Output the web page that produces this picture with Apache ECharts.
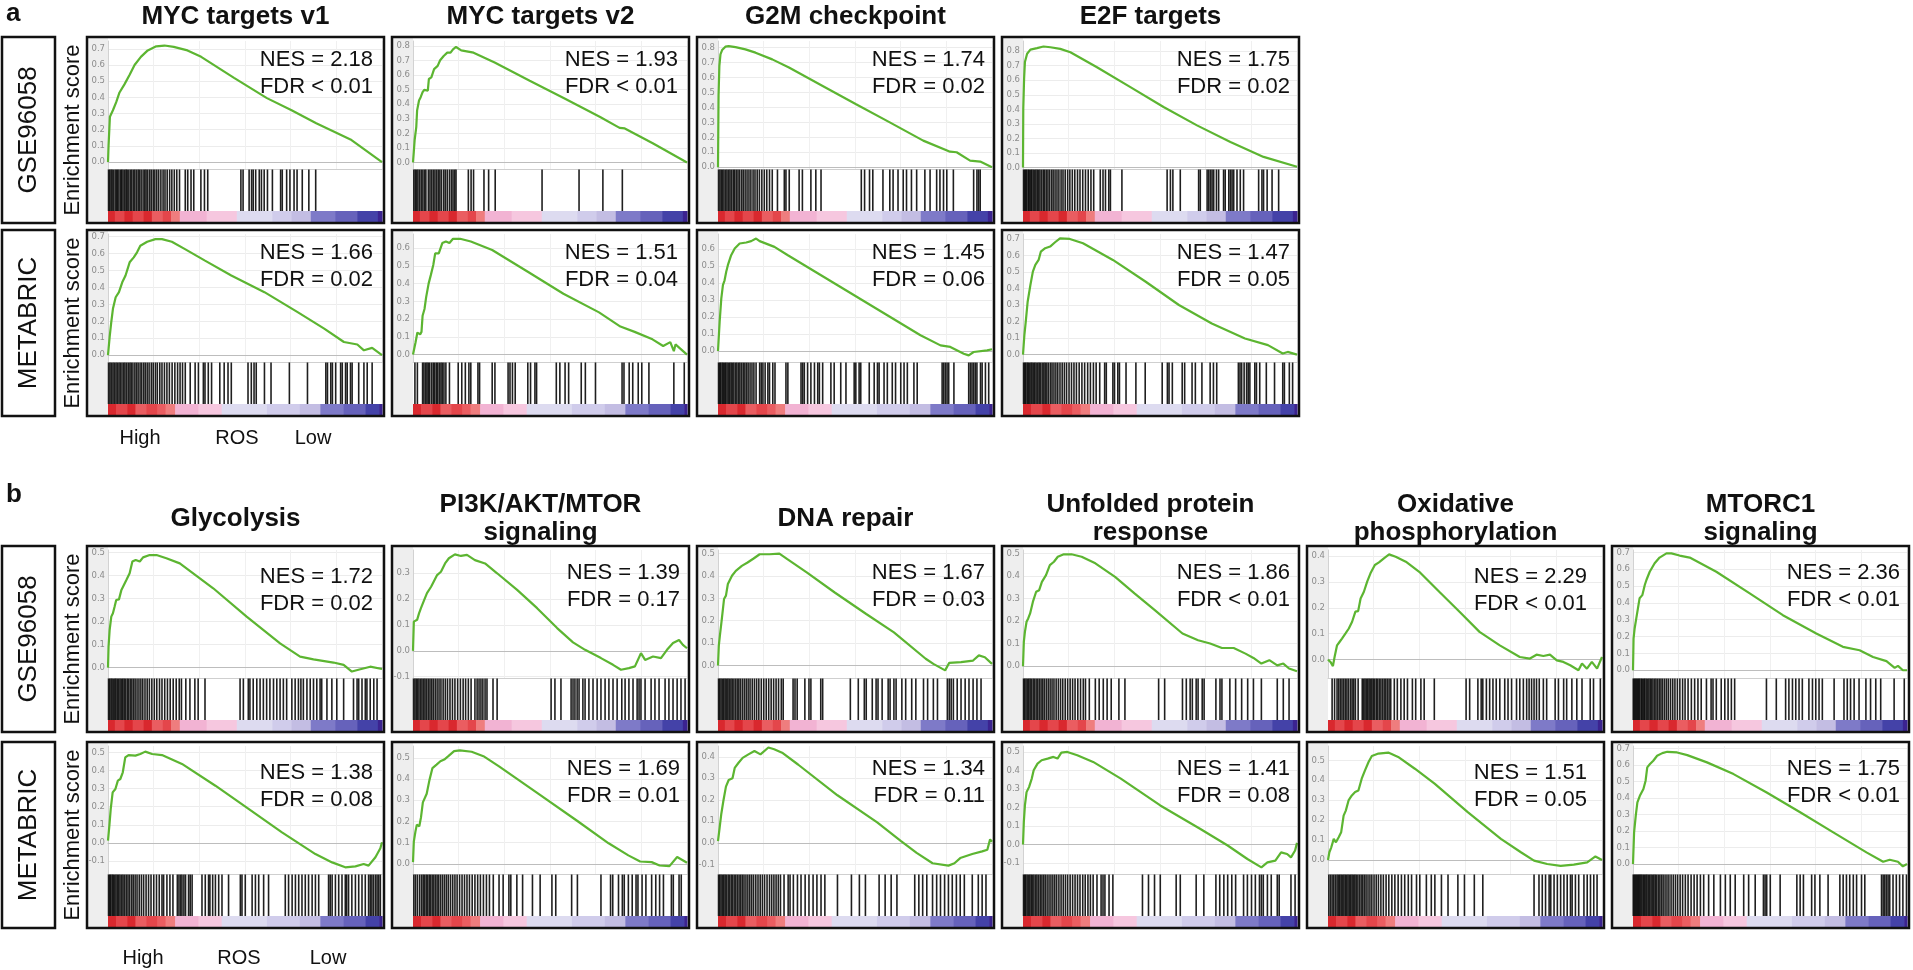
<!DOCTYPE html>
<html><head><meta charset="utf-8">
<script src="https://cdn.jsdelivr.net/npm/echarts@6/dist/echarts.min.js"></script>
<style>html,body{margin:0;padding:0;background:#fff;}#c{width:1913px;height:970px;}</style>
</head><body><div id="c"></div>
<script>
// ---------------- DATA ----------------
const setsA = ['MYC targets v1','MYC targets v2','G2M checkpoint','E2F targets'];
const setsB = ['Glycolysis','PI3K/AKT/MTOR\nsignaling','DNA repair','Unfolded protein\nresponse','Oxidative\nphosphorylation','MTORC1\nsignaling'];
const datasets = ['GSE96058','METABRIC'];
const yAxisName = 'Enrichment score';
const rankLabels = ['High','ROS','Low'];

const nesAGse = ['2.18','1.93','1.74','1.75'];
const fdrAGse = ['< 0.01','< 0.01','= 0.02','= 0.02'];
const nesAMet = ['1.66','1.51','1.45','1.47'];
const fdrAMet = ['= 0.02','= 0.04','= 0.06','= 0.05'];
const nesBGse = ['1.72','1.39','1.67','1.86','2.29','2.36'];
const fdrBGse = ['= 0.02','= 0.17','= 0.03','< 0.01','< 0.01','< 0.01'];
const nesBMet = ['1.38','1.69','1.34','1.41','1.51','1.75'];
const fdrBMet = ['= 0.08','= 0.01','= 0.11','= 0.08','= 0.05','< 0.01'];

const ticks00to05 = [0,0.1,0.2,0.3,0.4,0.5];
const ticks00to06 = [0,0.1,0.2,0.3,0.4,0.5,0.6];
const ticks00to07 = [0,0.1,0.2,0.3,0.4,0.5,0.6,0.7];
const ticks00to08 = [0,0.1,0.2,0.3,0.4,0.5,0.6,0.7,0.8];
const ticks00to04 = [0,0.1,0.2,0.3,0.4];
const ticksM1to05 = [-0.1,0,0.1,0.2,0.3,0.4,0.5];
const ticksM1to03 = [-0.1,0,0.1,0.2,0.3];
const ticksM1to04 = [-0.1,0,0.1,0.2,0.3,0.4];

const yRangeAGse = [[-0.043,0.748],[-0.045,0.835],[-0.012,0.845],[-0.01,0.87]];
const yRangeAMet = [[-0.04,0.715],[-0.042,0.68],[-0.065,0.69],[-0.045,0.73]];
const yRangeBGse = [[-0.045,0.51],[-0.105,0.39],[-0.056,0.516],[-0.052,0.515],[-0.071,0.423],[-0.046,0.714]];
const yRangeBMet = [[-0.171,0.535],[-0.048,0.556],[-0.145,0.45],[-0.159,0.532],[-0.07,0.572],[-0.06,0.714]];
const ticksAGse = [ticks00to07,ticks00to08,ticks00to08,ticks00to08];
const ticksAMet = [ticks00to07,ticks00to06,ticks00to06,ticks00to07];
const ticksBGse = [ticks00to05,ticksM1to03,ticks00to05,ticks00to05,ticks00to04,ticks00to07];
const ticksBMet = [ticksM1to05,ticks00to05,ticksM1to04,ticksM1to05,ticks00to05,ticks00to07];

// running enrichment score: [rank %, ES]
const esMyc1Gse = [[0,0],[0.2,0.1],[0.7,0.28],[1.8,0.32],[3,0.37],[4.2,0.43],[6,0.48],[7.9,0.54],[9.7,0.6],[12,0.65],[14.5,0.69],[17.6,0.715],[20.6,0.72],[24,0.712],[29,0.69],[34,0.65],[46,0.52],[58,0.395],[67,0.32],[76,0.24],[88.5,0.14],[100,0]];
const esMyc1Met = [[0,0],[0.6,0.107],[1.2,0.196],[1.8,0.274],[2.8,0.342],[4,0.372],[5.2,0.43],[6.4,0.47],[7.9,0.548],[9.4,0.577],[10.6,0.607],[11.8,0.646],[14.3,0.669],[17.3,0.685],[19.7,0.685],[23.3,0.669],[28.1,0.626],[35.4,0.558],[45,0.47],[57.1,0.372],[69.2,0.254],[78.9,0.157],[86.1,0.078],[91,0.063],[93.4,0.029],[96.4,0.043],[100,0]];
const esMyc2Gse = [[0,0],[0.3,0.075],[0.6,0.154],[1.2,0.245],[1.5,0.358],[2.2,0.426],[2.8,0.449],[3.5,0.483],[4.1,0.499],[5.4,0.494],[5.8,0.574],[6.7,0.585],[7.7,0.642],[9,0.664],[9.9,0.703],[11.2,0.732],[12.5,0.755],[13.7,0.755],[14.6,0.778],[15.7,0.794],[17.6,0.771],[22.1,0.755],[29.8,0.687],[42.6,0.562],[55.5,0.438],[68.3,0.313],[75.4,0.238],[77.3,0.234],[87.5,0.132],[100,0]];
const esMyc2Met = [[0,0],[0.65,-0.006],[0.9,0.067],[1.6,0.124],[2.6,0.114],[3.1,0.128],[3.5,0.219],[4.2,0.257],[4.8,0.324],[5.7,0.4],[6.5,0.448],[7.4,0.505],[8.1,0.571],[9.4,0.571],[10.7,0.629],[12,0.638],[13.3,0.629],[14.6,0.653],[17.2,0.653],[21.1,0.638],[28.9,0.59],[41.9,0.467],[54.9,0.343],[67.9,0.238],[75.7,0.158],[80.9,0.128],[87.4,0.086],[91.3,0.048],[93.9,0.07],[95.2,0.019],[95.8,0.057],[100,0]];
const esG2mGse = [[0,0],[0.2,0.478],[0.5,0.678],[0.9,0.756],[1.5,0.784],[2.7,0.807],[3.9,0.811],[6.4,0.804],[10,0.789],[13.7,0.767],[19.8,0.722],[25.9,0.667],[38.2,0.544],[50.4,0.422],[62.7,0.3],[74.9,0.178],[84.7,0.104],[87.1,0.1],[92,0.044],[95.7,0.038],[100,0]];
const esG2mMet = [[0,0],[0.6,0.171],[1.2,0.309],[1.8,0.388],[2.4,0.417],[3,0.467],[3.6,0.506],[4.8,0.565],[6.1,0.604],[7.9,0.634],[10.3,0.64],[12.1,0.648],[13.9,0.663],[15.2,0.648],[20.6,0.614],[25.5,0.565],[37.6,0.447],[49.7,0.329],[61.8,0.211],[73.9,0.093],[81.2,0.033],[84.8,0.024],[89.7,-0.016],[91.5,-0.026],[93.3,-0.006],[98.2,0.004],[100,0.01]];
const esE2fGse = [[0,0],[0.1,0.405],[0.4,0.61],[0.7,0.725],[1.5,0.782],[2.7,0.811],[5.1,0.821],[7.5,0.832],[10,0.827],[13.6,0.816],[17.3,0.793],[27,0.69],[39.2,0.553],[51.3,0.416],[63.5,0.29],[75.7,0.176],[87.8,0.073],[100,0.005]];
const esE2fMet = [[0,0],[0.5,0.117],[1,0.198],[1.7,0.32],[2.7,0.421],[3.6,0.502],[4.5,0.543],[5.7,0.573],[6.5,0.623],[8.1,0.644],[9.9,0.654],[11.7,0.68],[13.5,0.704],[17.1,0.7],[21.9,0.674],[32.8,0.573],[44.8,0.441],[56.9,0.3],[68.9,0.188],[81,0.097],[89.4,0.057],[94.8,0.006],[96.6,0.016],[100,0]];
const esGlyGse = [[0,0],[0.2,0.091],[0.6,0.163],[1.2,0.221],[1.8,0.236],[2.4,0.264],[3,0.293],[4,0.296],[4.9,0.337],[6.7,0.38],[7.9,0.409],[8.9,0.46],[10.1,0.467],[11.6,0.46],[12.8,0.478],[15.2,0.488],[17.7,0.488],[21.3,0.474],[26.2,0.452],[38.4,0.344],[50.6,0.221],[62.8,0.105],[70.1,0.048],[75,0.036],[82.3,0.022],[86,0.012],[89,-0.017],[92.1,-0.007],[95.7,0.004],[100,-0.006]];
const esGlyMet = [[0,0.013],[0.5,0.096],[1,0.188],[1.7,0.279],[2.7,0.298],[3.6,0.344],[4.5,0.353],[5.4,0.39],[6.3,0.472],[7.5,0.485],[10,0.482],[11.8,0.491],[13.6,0.504],[16.1,0.491],[19.7,0.485],[27,0.436],[39.2,0.316],[51.3,0.188],[63.5,0.059],[75.7,-0.061],[81.8,-0.107],[86.6,-0.134],[90.3,-0.129],[93.3,-0.116],[95.1,-0.125],[97.6,-0.079],[99.4,-0.029],[100,0.004]];
const esPi3kGse = [[0,0],[0.3,0.113],[0.9,0.107],[1.5,0.12],[2.2,0.145],[2.9,0.165],[4.1,0.197],[5.1,0.223],[6.6,0.248],[8.8,0.293],[10.2,0.306],[11.7,0.338],[13.1,0.358],[15.3,0.373],[17.5,0.367],[19.7,0.371],[22.6,0.351],[26.3,0.338],[30.7,0.3],[38,0.236],[45.3,0.165],[52.6,0.088],[58.4,0.033],[62.8,0.004],[68.6,-0.028],[73,-0.054],[75.9,-0.073],[78.8,-0.067],[81,-0.06],[83.2,-0.009],[84.7,-0.035],[87.6,-0.022],[90.5,-0.028],[92.7,0.004],[94.9,0.03],[97.1,0.042],[98.5,0.023],[100,0.01]];
const esPi3kMet = [[0,0.008],[0.3,0.105],[0.9,0.153],[1.4,0.185],[2.3,0.177],[2.9,0.218],[3.6,0.29],[4.3,0.282],[5,0.331],[6,0.395],[7.1,0.452],[8.6,0.468],[10,0.484],[11.4,0.492],[12.9,0.508],[15,0.532],[17.1,0.535],[21.4,0.529],[25.7,0.508],[31.4,0.46],[45.7,0.331],[60,0.202],[71.4,0.097],[78.6,0.04],[82.9,0.011],[87.1,0.008],[90,-0.008],[93.6,-0.011],[96.4,0.032],[98.6,0.016],[100,0.005]];
const esDnaGse = [[0,0],[0.3,0.089],[0.7,0.134],[1.4,0.208],[2.2,0.297],[2.9,0.312],[3.6,0.364],[5.1,0.401],[6.5,0.423],[8.7,0.445],[10.8,0.46],[13,0.478],[15.2,0.497],[18.8,0.497],[22.4,0.5],[25.3,0.475],[32.5,0.415],[42.6,0.326],[54.1,0.23],[64.2,0.148],[75.8,0.03],[78.6,0.007],[82.9,-0.022],[84.4,0.012],[88.7,0.015],[93.1,0.022],[95.2,0.045],[97.4,0.037],[100,0.007]];
const esDnaMet = [[0,0.008],[0.6,0.071],[1.2,0.134],[2,0.198],[2.9,0.261],[3.9,0.292],[5.3,0.3],[6.1,0.348],[7.5,0.372],[9,0.395],[11.1,0.411],[13.3,0.427],[15.5,0.411],[18.4,0.443],[20.5,0.435],[23.4,0.419],[29.2,0.364],[43.6,0.221],[58.1,0.095],[66.8,0.008],[72.5,-0.047],[78.3,-0.095],[84.1,-0.106],[86.3,-0.095],[88.4,-0.071],[92.8,-0.052],[96.4,-0.04],[98.3,-0.032],[99.3,0.016],[100,0.005]];
const esUprGse = [[0,0],[0.3,0.108],[0.7,0.152],[1.3,0.197],[1.9,0.212],[2.6,0.234],[3.6,0.285],[4.8,0.33],[5.9,0.337],[6.9,0.374],[8.4,0.404],[9.8,0.448],[11.3,0.463],[12.7,0.485],[14.9,0.496],[17.7,0.496],[21.4,0.485],[26.4,0.456],[33.6,0.396],[40.8,0.322],[48.1,0.249],[58.2,0.145],[63.9,0.115],[68.3,0.101],[72.6,0.081],[76.9,0.081],[81.2,0.056],[84.1,0.037],[87,0.012],[89.9,0.027],[92.8,0.004],[95,0.012],[97.1,-0.01],[100,-0.022]];
const esUprMet = [[0,0],[0.3,0.121],[0.7,0.211],[1.3,0.283],[2.2,0.31],[3.2,0.356],[3.9,0.401],[5.3,0.437],[6.8,0.455],[9,0.464],[11.1,0.473],[12.6,0.464],[14,0.496],[16.2,0.5],[19.8,0.482],[25.6,0.446],[35.7,0.356],[50.1,0.211],[64.6,0.085],[74.7,-0.005],[81.9,-0.078],[87,-0.123],[89.2,-0.096],[92.1,-0.087],[94.2,-0.042],[96.4,-0.051],[97.8,-0.069],[99.3,-0.032],[100,0.009]];
const esOxGse = [[0,0],[0.9,-0.009],[1.8,-0.025],[2.4,0.01],[3.3,0.055],[4.2,0.068],[5.1,0.081],[6.4,0.101],[7.6,0.12],[8.8,0.146],[10,0.185],[11,0.187],[11.9,0.236],[13.1,0.262],[14.3,0.301],[15.5,0.333],[17.1,0.365],[18.6,0.375],[20.4,0.391],[22.3,0.406],[24.7,0.397],[28.4,0.378],[33.3,0.339],[40.6,0.262],[48,0.185],[55.3,0.107],[62.7,0.055],[70,0.01],[73.7,0.004],[76.1,0.019],[78.6,0.014],[81,0.019],[83.5,-0.003],[85.9,-0.009],[88.4,-0.022],[91.4,-0.041],[92.7,-0.015],[94.5,-0.035],[96.3,-0.009],[98.2,-0.035],[100,0.01]];
const esOxMet = [[0,0],[0.5,0.039],[1.2,0.064],[2.1,0.106],[2.9,0.089],[3.9,0.114],[4.8,0.139],[5.7,0.223],[6.5,0.248],[7.5,0.299],[8.7,0.324],[9.9,0.341],[11.1,0.349],[12.3,0.408],[13.5,0.45],[14.8,0.492],[16,0.522],[18.4,0.534],[22,0.539],[25.6,0.517],[31.7,0.458],[38.9,0.383],[51,0.24],[63.1,0.106],[70.4,0.039],[75.2,-0.003],[80,-0.02],[84.9,-0.029],[89.7,-0.023],[94.6,-0.012],[97.6,0.018],[100,0]];
const esMtorGse = [[0,0],[0.1,0.089],[0.2,0.188],[0.6,0.248],[1.2,0.308],[1.8,0.367],[2.4,0.427],[3.4,0.446],[4.3,0.506],[4.9,0.536],[6.1,0.585],[7.9,0.635],[9.7,0.669],[12.2,0.694],[14,0.694],[17,0.681],[20.7,0.669],[30.4,0.585],[42.6,0.456],[54.7,0.327],[66.9,0.218],[76.6,0.139],[82.7,0.119],[87.6,0.079],[92.5,0.054],[95.5,0.014],[96.7,0.026],[98.5,0],[100,0]];
const esMtorMet = [[0,0],[0.1,0.05],[0.4,0.192],[1,0.292],[1.6,0.373],[2.5,0.413],[3.8,0.454],[4.6,0.504],[5.2,0.585],[6.2,0.605],[7.4,0.625],[8.8,0.655],[10.7,0.671],[12.5,0.679],[16.1,0.675],[19.8,0.659],[27,0.615],[36.7,0.544],[48.8,0.433],[61,0.313],[73.1,0.192],[85.2,0.071],[91.3,0.014],[93.7,0.026],[96.7,0.014],[98.5,-0.014],[100,0]];

// gene-set hit positions (rank %)
const hitsMyc1Gse = [0.2,0.6,1.1,1.5,2.0,2.6,3.1,3.5,4.0,4.6,5.0,5.5,6.1,6.6,7.0,7.6,8.2,8.7,9.3,9.8,10.4,11.0,11.5,12.1,12.8,13.4,13.9,14.5,15.2,15.8,16.5,17.1,17.8,18.5,19.3,20.1,20.8,21.6,22.5,23.3,24.2,25.1,26.1,28.2,29.1,30.3,31.3,33.9,35.2,36.4,48.5,49.3,51.5,52.4,53.0,53.9,55.2,56.0,57.0,58.2,60.0,63.0,63.6,65.2,66.4,67.9,69.0,70.9,73.3,75.8];
const hitsMyc1Met = [0.2,0.7,1.2,1.8,2.3,2.9,3.4,4.0,4.5,5.1,5.7,6.2,6.8,7.4,8.0,8.5,9.1,9.8,10.4,11.0,11.7,12.3,13.0,13.6,14.3,15.0,15.8,16.5,17.3,18.0,18.9,19.7,20.6,21.5,22.4,23.4,24.4,25.4,26.3,27.2,28.2,30.0,31.8,33.0,34.8,35.4,36.6,37.8,40.8,42.4,43.8,45.0,51.1,52.3,53.3,54.1,57.1,59.5,66.2,72.8,79.5,80.1,81.3,81.9,83.1,84.9,85.5,86.7,87.3,88.5,89.1,91.5,93.4,94.6,96.4];
const hitsMyc2Gse = [0.3,0.8,1.3,1.8,2.4,3.0,3.6,4.2,4.7,5.6,6.2,6.8,7.4,8.0,8.6,9.2,9.8,10.4,11.2,11.8,12.5,13.3,14.0,14.6,15.2,15.7,20.2,21.2,22.1,25.9,27.6,30.0,47.1,60.6,69.3,76.4];
const hitsMyc2Met = [0.7,1.6,3.5,4.0,4.6,5.1,5.6,6.1,6.8,7.4,7.9,8.5,9.0,9.6,10.2,10.7,11.3,12.0,13.3,16.5,17.8,19.1,20.4,21.1,23.7,24.3,28.9,29.9,34.7,35.4,36.3,37.3,41.9,42.9,44.5,45.1,52.3,53.6,55.5,56.8,61.4,62.9,66.6,76.3,77.0,78.9,80.2,82.2,83.5,86.1,95.2,99.0];
const hitsG2mGse = [0.2,0.7,1.2,1.7,2.2,2.8,3.3,3.9,4.4,5.0,5.6,6.1,6.7,7.3,7.9,8.6,9.2,9.9,10.6,11.3,12.0,12.8,13.5,14.3,15.1,16.0,16.9,17.8,18.8,19.8,21.7,24.2,24.8,26.0,29.6,30.8,33.9,35.7,37.6,52.3,53.5,55.3,56.5,60.2,62.7,63.9,65.7,67.6,68.8,70.6,72.5,75.5,77.4,79.8,81.0,82.3,83.5,85.9,93.3,94.5,95.1,95.7];
const hitsG2mMet = [0.2,0.6,1.0,1.5,1.9,2.4,2.8,3.3,3.8,4.3,4.8,5.3,5.8,6.4,6.9,7.5,8.0,8.6,9.2,9.8,10.4,11.0,11.7,12.4,13.1,13.9,15.2,15.8,16.4,17.2,18.2,18.8,20.0,20.8,24.8,25.5,30.3,30.9,31.5,32.7,33.9,35.2,36.4,37.0,38.2,41.2,42.4,44.8,46.7,49.7,50.3,51.5,52.1,55.2,57.0,58.2,58.8,60.6,61.8,63.6,64.8,66.7,67.9,69.1,71.5,72.7,81.8,82.4,83.0,83.6,84.2,86.1,91.5,92.1,92.7,93.3,93.9,94.5,95.8,96.4,97.6,98.8];
const hitsE2fGse = [0.2,0.6,1.0,1.4,1.9,2.3,2.8,3.2,3.7,4.2,4.7,5.2,5.7,6.2,6.8,7.4,7.9,8.5,9.1,9.7,10.4,11.0,11.7,12.4,13.1,13.9,14.6,15.4,16.3,17.1,18.0,18.9,19.9,20.8,21.8,22.8,23.8,24.8,25.8,28.2,29.2,30.1,31.3,31.9,36.1,52.6,53.8,54.7,57.4,64.1,64.7,67.2,67.8,68.4,69.0,69.6,70.6,71.4,73.2,73.8,75.1,75.7,76.3,76.9,78.1,79.3,80.5,86.0,87.2,87.8,89.1,90.9,93.3];
const hitsE2fMet = [0.2,0.6,1.0,1.5,1.9,2.4,2.9,3.3,3.8,4.3,4.8,5.4,5.9,6.4,7.0,7.6,8.1,8.7,9.3,10.0,10.6,11.3,12.0,12.7,13.5,14.3,15.1,15.9,16.8,17.7,18.6,19.5,20.5,21.5,22.5,23.6,24.6,25.7,26.7,28.0,29.8,30.4,32.8,33.4,34.6,35.2,37.6,41.2,44.6,50.8,52.7,53.3,54.5,58.1,59.0,61.7,62.9,65.3,68.3,69.5,70.7,78.6,79.2,79.8,80.7,81.6,82.2,82.8,84.6,85.2,86.4,88.8,91.8,94.8,95.4,97.2,98.4];
const hitsGlyGse = [0.2,0.6,1.1,1.5,2.0,2.5,2.9,3.4,3.9,4.4,4.9,5.4,5.9,6.4,7.0,7.5,8.1,8.7,9.3,9.9,10.6,11.3,12.0,12.7,13.5,14.3,15.1,16.0,16.9,17.8,18.8,19.7,20.7,21.7,22.7,23.8,24.9,26.0,26.8,28.4,29.9,31.7,32.9,35.4,48.2,49.4,51.2,51.8,53.0,54.3,55.5,56.7,57.9,59.1,60.4,61.6,62.8,64.0,65.2,67.1,68.3,69.5,70.4,71.3,72.6,73.8,75.0,76.2,77.4,78.0,79.9,81.7,83.5,86.0,89.6,90.9,91.5,92.7,93.9,94.5,95.7,97.0,98.2];
const hitsGlyMet = [0.2,0.6,1.0,1.5,1.9,2.4,2.9,3.4,3.9,4.4,5.0,5.5,6.1,6.7,7.3,7.9,8.6,9.2,9.9,10.6,11.4,12.2,13.0,13.9,14.8,15.7,16.7,17.7,18.7,19.7,20.3,21.5,22.6,23.7,25.3,25.9,26.5,27.0,27.7,28.3,29.4,30.0,30.7,34.3,35.5,36.7,37.2,38.2,39.2,40.4,41.6,44.0,48.3,48.9,50.1,52.6,53.8,55.0,56.8,58.6,64.7,65.9,67.2,68.4,69.6,70.8,72.0,73.2,74.5,75.7,76.9,80.5,81.1,81.8,83.0,84.2,85.4,86.6,87.1,87.8,89.0,90.3,91.5,92.7,93.9,95.1,95.7,96.3,96.9,97.6,98.2,98.8,99.4];
const hitsPi3kGse = [0.2,0.7,1.2,1.7,2.2,2.8,3.3,3.9,4.4,5.0,5.6,6.2,6.8,7.4,8.1,8.8,9.5,10.2,11.0,11.8,12.6,13.5,14.4,15.3,16.3,17.3,18.3,19.2,20.2,21.2,22.6,23.4,24.1,24.8,25.5,26.3,27.0,29.2,30.7,50.4,51.8,54.0,57.7,58.4,59.1,59.9,60.6,62.0,62.8,64.2,65.7,67.2,68.6,70.1,71.5,73.0,74.5,76.2,77.4,78.8,80.3,81.8,82.5,83.2,84.7,86.9,88.3,89.8,92.0,93.4,94.9,96.4,97.8,99.3];
const hitsPi3kMet = [0.3,0.9,1.6,2.4,3.1,3.7,4.2,4.8,5.3,5.9,6.4,7.0,7.6,8.2,8.8,9.4,10.1,10.8,11.5,12.2,12.9,13.7,14.5,15.3,16.1,17.0,17.9,18.8,19.7,20.6,21.6,22.6,23.6,24.6,25.7,26.8,27.9,29.3,31.4,32.9,35.0,35.7,37.9,40.0,43.6,46.4,50.7,52.1,57.9,60.0,68.6,72.1,72.9,75.0,76.4,77.1,78.6,80.0,81.4,82.1,83.6,85.0,87.1,88.6,90.0,91.4,94.3,95.0,97.1,97.9];
const hitsDnaGse = [0.2,0.6,1.1,1.6,2.1,2.6,3.1,3.6,4.1,4.7,5.2,5.8,6.4,7.0,7.6,8.2,8.9,9.6,10.3,11.0,11.7,12.5,13.3,14.1,14.9,15.8,16.7,17.6,18.5,19.4,20.3,21.2,22.1,23.1,23.8,27.4,28.1,28.9,31.7,33.2,33.9,37.5,38.2,48.3,51.2,53.4,54.1,56.3,57.7,58.4,59.9,62.1,62.8,64.2,65.0,67.1,68.5,70.7,72.2,75.0,76.5,78.6,80.1,83.7,84.4,85.1,85.9,87.3,88.7,90.2,91.6,93.1,94.5,96.0];
const hitsDnaMet = [0.2,0.6,1.1,1.6,2.1,2.6,3.1,3.7,4.2,4.8,5.3,5.9,6.5,7.1,7.7,8.3,8.9,9.5,10.2,10.9,11.6,12.3,13.0,13.8,14.6,15.4,16.2,17.0,17.9,18.8,19.6,20.4,21.2,22.0,22.8,24.1,25.6,26.3,27.5,29.0,30.3,31.8,33.2,34.7,36.1,37.6,39.0,43.6,48.7,51.6,53.8,58.8,61.0,63.2,65.3,71.8,73.3,74.7,76.2,78.3,79.8,81.2,82.7,84.1,85.5,87.0,88.4,89.9,92.8,95.0,96.4,97.8];
const hitsUprGse = [0.2,0.6,1.1,1.6,2.1,2.6,3.1,3.7,4.2,4.8,5.4,6.0,6.6,7.2,7.8,8.5,9.2,9.9,10.6,11.3,12.1,12.9,13.7,14.5,15.4,16.3,17.2,18.1,19.0,20.0,21.0,22.0,22.8,24.2,26.4,27.8,29.3,30.7,32.2,35.0,37.2,49.5,51.7,58.2,59.6,61.0,61.8,63.2,63.9,65.4,66.1,70.4,71.9,72.6,75.5,77.6,79.8,82.0,84.1,87.0,92.8,95.0,97.1];
const hitsUprMet = [0.2,0.6,1.0,1.5,2.0,2.5,3.0,3.5,4.0,4.6,5.1,5.7,6.3,6.9,7.5,8.1,8.8,9.5,10.2,10.9,11.6,12.3,13.1,13.9,14.7,15.5,16.3,17.2,18.1,19.0,19.9,20.8,21.8,22.7,23.7,24.6,25.6,27.0,28.5,29.2,29.9,31.4,32.8,43.6,45.8,48.0,50.1,55.9,57.4,63.2,66.0,70.4,71.8,73.3,74.7,76.2,77.6,80.5,81.9,83.4,84.8,86.3,87.0,87.7,89.2,90.6,92.8,93.5,97.8,99.3];
const hitsOxGse = [1.5,2.4,3.3,3.9,4.5,5.1,5.7,6.3,6.9,7.5,8.2,8.8,9.4,10.0,11.0,12.5,13.0,13.5,14.0,14.5,15.0,15.5,16.0,16.5,17.0,17.6,18.1,18.7,19.3,19.9,20.5,21.1,21.7,22.3,22.9,24.2,25.3,26.6,27.8,29.0,30.8,32.0,33.9,35.1,38.8,50.4,51.7,54.7,55.9,56.5,57.8,59.0,60.2,61.4,62.7,64.5,65.7,67.0,68.8,70.0,71.3,72.5,73.4,74.3,75.2,76.1,77.1,78.6,79.8,82.9,84.1,86.0,87.1,89.0,90.8,92.7,95.7,96.9,99.4];
const hitsOxMet = [0.3,0.9,1.5,2.1,2.7,3.3,3.8,4.3,4.8,5.3,5.8,6.3,6.8,7.3,7.8,8.3,8.8,9.3,9.8,10.3,10.9,11.5,12.1,12.7,13.3,13.9,14.6,15.3,16.0,16.8,17.6,18.4,19.3,20.2,21.2,22.2,23.3,24.4,25.6,26.8,28.0,29.3,30.5,32.3,33.5,35.9,37.7,39.0,41.4,43.8,47.4,49.8,53.4,56.5,75.2,77.0,78.2,79.4,80.7,81.3,82.5,83.7,84.9,86.1,87.3,88.5,89.1,90.3,91.5,93.4,94.6,95.8,97.0,98.2];
const hitsMtorGse = [0.1,0.5,0.9,1.3,1.7,2.1,2.5,3.0,3.4,3.9,4.3,4.8,5.3,5.8,6.3,6.8,7.3,7.9,8.4,9.0,9.6,10.2,10.8,11.5,12.2,12.9,13.7,14.5,15.3,16.2,17.1,18.1,19.0,20.1,21.3,22.5,23.7,24.9,26.8,28.5,29.2,30.4,32.2,33.5,34.7,35.9,37.1,48.7,52.3,55.7,56.9,58.2,59.4,60.6,61.8,64.2,65.5,66.7,67.9,69.1,73.4,77.0,78.2,79.4,80.7,82.5,85.0,86.7,88.6,90.4,95.3,99.0];
const hitsMtorMet = [0.1,0.5,0.9,1.3,1.7,2.1,2.5,2.9,3.3,3.8,4.2,4.7,5.1,5.6,6.1,6.6,7.1,7.6,8.1,8.6,9.2,9.8,10.4,11.0,11.7,12.4,13.1,13.9,14.7,15.5,16.3,17.2,18.1,19.1,20.1,21.2,22.3,23.4,24.6,25.8,27.6,29.5,31.9,33.7,35.5,37.3,40.4,42.2,44.6,47.6,48.2,48.8,50.1,53.7,59.8,61.0,62.2,65.2,66.4,68.2,71.2,75.5,76.7,77.9,79.1,80.4,81.6,83.4,84.6,90.7,91.3,91.9,92.5,93.1,93.7,94.9,96.1,97.3,98.5,99.8];

// ranked-list metric bands: [start %, end %, shade level]
const rankBandsGse = [[0,2.5,0],[2.5,6,1],[6,9,0],[9,13,1],[13,16,0],[16,20,2],[20,23,1],[23,26.2,3],[26.2,36,4],[36,47,5],[47,60,6],[60,67,7],[67,74,8],[74,83,9],[83,91,10],[91,98.5,11],[98.5,100,12]];
const rankBandsMet = [[0,3,0],[3,7,1],[7,10,0],[10,14,2],[14,18,1],[18,21,2],[21,24.5,3],[24.5,33,4],[33,41.5,5],[41.5,58,6],[58,70,7],[70,77.5,8],[77.5,86,9],[86,94,10],[94,99,11],[99,100,12]];

// ---------------- STYLE / LAYOUT ----------------
const SHADES = ['#d9282e','#e4464b','#ea5d61','#ef7d7e','#f2b3d3','#f6c7df','#dddbf0','#d0cceb','#c3bde3','#7e7ac8','#6662bb','#4442a8','#3b2390'];
const GREEN = '#5cb531';
const FONT = '"Liberation Sans", Arial, sans-serif';
const X0 = 87, PITCH = 305, W = 297, H = 186;
const ROW_TOP = [37, 230, 546, 742];

const esA = [[esMyc1Gse,esMyc2Gse,esG2mGse,esE2fGse],[esMyc1Met,esMyc2Met,esG2mMet,esE2fMet]];
const hitA = [[hitsMyc1Gse,hitsMyc2Gse,hitsG2mGse,hitsE2fGse],[hitsMyc1Met,hitsMyc2Met,hitsG2mMet,hitsE2fMet]];
const esB = [[esGlyGse,esPi3kGse,esDnaGse,esUprGse,esOxGse,esMtorGse],[esGlyMet,esPi3kMet,esDnaMet,esUprMet,esOxMet,esMtorMet]];
const hitB = [[hitsGlyGse,hitsPi3kGse,hitsDnaGse,hitsUprGse,hitsOxGse,hitsMtorGse],[hitsGlyMet,hitsPi3kMet,hitsDnaMet,hitsUprMet,hitsOxMet,hitsMtorMet]];

const panels = [];
for (let d = 0; d < 2; d++) {
  for (let c = 0; c < 4; c++) panels.push({sec:0, d, c, row:d, es:esA[d][c], hits:hitA[d][c],
    nes:(d?nesAMet:nesAGse)[c], fdr:(d?fdrAMet:fdrAGse)[c], yr:(d?yRangeAMet:yRangeAGse)[c], ticks:(d?ticksAMet:ticksAGse)[c]});
  for (let c = 0; c < 6; c++) panels.push({sec:1, d, c, row:2+d, es:esB[d][c], hits:hitB[d][c],
    nes:(d?nesBMet:nesBGse)[c], fdr:(d?fdrBMet:fdrBGse)[c], yr:(d?yRangeBMet:yRangeBGse)[c], ticks:(d?ticksBMet:ticksBGse)[c]});
}

const grid = [], xAxis = [], yAxis = [], series = [], graphic = [];
function addGrid(g, xa, ya) { grid.push(g); xa.gridIndex = grid.length-1; ya.gridIndex = grid.length-1; xAxis.push(xa); yAxis.push(ya); return grid.length-1; }
const hide = {show:false};

panels.forEach(p => {
  const x = X0 + p.c*PITCH, y = ROW_TOP[p.row];
  const gl = x + 21, gw = W - 23;
  // ES plot
  const gi = addGrid({left:gl, top:y+4, width:gw, height:128},
    {type:'value', min:0, max:100, interval:100/6, axisLabel:hide, axisTick:hide,
     axisLine:{show:true, onZero:true, lineStyle:{color:'#bdbdbd', width:1}},
     splitLine:{show:true, lineStyle:{color:'#f0f0f0', width:1}}},
    {type:'value', min:p.yr[0], max:p.yr[1],
     axisLine:{show:true, lineStyle:{color:'#d2d2d2', width:1}},
     axisTick:{show:false, customValues:p.ticks},
     axisLabel:{show:true, customValues:p.ticks, fontSize:8.5, color:'#8c8c8c', margin:3, fontFamily:'DejaVu Sans',
       formatter:v => Number(v).toFixed(1)},
     splitLine:{show:true, lineStyle:{color:'#ececec', width:1}}});
  series.push({type:'line', xAxisIndex:gi, yAxisIndex:gi, data:p.es, showSymbol:false, symbol:'none',
    lineStyle:{color:GREEN, width:2.2}, z:5, silent:true});
  // hits
  const hi = addGrid({left:gl, top:y+132, width:gw, height:42},
    {type:'value', min:0, max:100, position:'top', axisLabel:hide, axisTick:hide, splitLine:hide,
     axisLine:{show:true, onZero:false, lineStyle:{color:'#cfcfcf', width:1}}},
    {type:'value', min:0, max:1, show:false});
  series.push({type:'custom', xAxisIndex:hi, yAxisIndex:hi, silent:true, data:p.hits.map(v => [v, 0.5]),
    encode:{x:0, y:1},
    renderItem:(params, api) => {
      const px = api.coord([api.value(0), 0.5])[0];
      const cs = params.coordSys;
      return {type:'line', shape:{x1:px, y1:cs.y+0.5, x2:px, y2:cs.y+cs.height}, style:{stroke:'#000', lineWidth:1.6, opacity:0.88}};
    }});
  // ranked list colour bar
  const ci = addGrid({left:gl, top:y+174, width:gw, height:11},
    {type:'value', min:0, max:100, show:false}, {type:'value', min:0, max:1, show:false});
  const bands = p.d ? rankBandsMet : rankBandsGse;
  series.push({type:'custom', xAxisIndex:ci, yAxisIndex:ci, silent:true, data:bands.map(b => [b[0], b[1], 0.5, b[2]]),
    encode:{x:[0,1], y:2},
    renderItem:(params, api) => {
      const a = api.coord([api.value(0), 1]);
      const b = api.coord([api.value(1), 0]);
      return {type:'rect', shape:{x:a[0], y:a[1], width:b[0]-a[0]+0.6, height:b[1]-a[1]}, style:{fill:SHADES[api.value(3)]}};
    }});
  // frame decorations
  graphic.push({type:'rect', z:-10, shape:{x:x, y:y, width:21, height:H}, style:{fill:'#eeeeee'}});
  graphic.push({type:'rect', z:100, shape:{x:x, y:y, width:W, height:H}, style:{fill:'none', stroke:'#111', lineWidth:2.5}});
  // NES / FDR
  let dy1 = 23, dy2 = 50, inset = 9;
  if (p.sec === 1) { dy1 = 27; dy2 = 54; if (p.c === 0) { dy1 = 31; dy2 = 58; inset = 11; } if (p.c === 4) { dy1 = 31; dy2 = 58; inset = 17; } }
  if (p.sec === 0 && p.c <= 1) inset = 11;
  graphic.push({type:'text', z:101, x:x+W-inset, y:y+dy1, style:{text:'NES = '+p.nes, font:'22px '+FONT, fill:'#111', textAlign:'right', textVerticalAlign:'middle'}});
  graphic.push({type:'text', z:101, x:x+W-inset, y:y+dy2, style:{text:'FDR '+p.fdr, font:'22px '+FONT, fill:'#111', textAlign:'right', textVerticalAlign:'middle'}});
});

// row labels and y names
ROW_TOP.forEach((ty, r) => {
  graphic.push({type:'rect', z:100, shape:{x:2, y:ty, width:53, height:H}, style:{fill:'none', stroke:'#111', lineWidth:2.5}});
  graphic.push({type:'text', z:101, x:29, y:ty+H/2, rotation:Math.PI/2, style:{text:datasets[r%2], font:'26px '+FONT, fill:'#111', textAlign:'center', textVerticalAlign:'middle'}});
  graphic.push({type:'text', z:101, x:73, y:ty+H/2, rotation:Math.PI/2, style:{text:yAxisName, font:'22px '+FONT, fill:'#111', textAlign:'center', textVerticalAlign:'middle'}});
});
// section letters
graphic.push({type:'text', x:6, y:14, style:{text:'a', font:'bold 26px '+FONT, fill:'#111', textAlign:'left', textVerticalAlign:'middle'}});
graphic.push({type:'text', x:6, y:495, style:{text:'b', font:'bold 26px '+FONT, fill:'#111', textAlign:'left', textVerticalAlign:'middle'}});
// titles
setsA.forEach((t, c) => graphic.push({type:'text', x:X0+c*PITCH+W/2, y:17, style:{text:t, font:'bold 26px '+FONT, fill:'#111', textAlign:'center', textVerticalAlign:'middle'}}));
setsB.forEach((t, c) => graphic.push({type:'text', x:X0+c*PITCH+W/2, y:519, style:{text:t, font:'bold 26px '+FONT, lineHeight:28, fill:'#111', textAlign:'center', textVerticalAlign:'middle'}}));
// rank direction labels
const rankX = [[53,150,226],[56,152,241]];
const rankY = [438, 958];
[0,1].forEach(s => rankLabels.forEach((t, i) => graphic.push({type:'text', x:X0+rankX[s][i], y:rankY[s], style:{text:t, font:'20px '+FONT, fill:'#111', textAlign:'center', textVerticalAlign:'middle'}})));

const chart = echarts.init(document.getElementById('c'), null, {renderer:'canvas'});
chart.setOption({animation:false, backgroundColor:'#ffffff', grid, xAxis, yAxis, series, graphic:{elements:graphic}});
</script></body></html>
